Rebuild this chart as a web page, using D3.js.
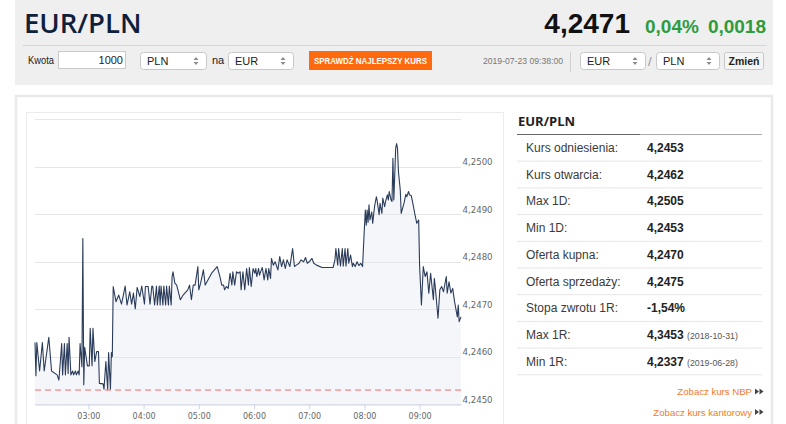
<!DOCTYPE html>
<html>
<head>
<meta charset="utf-8">
<script src="https://cdnjs.cloudflare.com/ajax/libs/d3/7.8.5/d3.min.js"></script>
<style>
    body { margin: 0; background: #fff; }
    svg { display: block; font-family: "Liberation Sans", Arial, sans-serif; }
</style>
</head>
<body>
<div id="page"></div>
<script>
// intraday EUR/PLN quotes
var series = [
    ["02:02", 4.2463], ["02:03", 4.2456], ["02:04", 4.2463], ["02:07", 4.2457], ["02:10", 4.2463],
    ["02:12", 4.2457], ["02:17", 4.24641], ["02:20", 4.2457], ["02:26", 4.24562], ["02:28", 4.24551],
    ["02:31", 4.24628], ["02:32", 4.24562], ["02:34", 4.24628], ["02:35", 4.24562], ["02:37", 4.24628],
    ["02:38", 4.24565], ["02:39", 4.24641], ["02:41", 4.24562], ["02:43", 4.2457], ["02:44", 4.24562],
    ["02:46", 4.2457], ["02:47", 4.24562], ["02:49", 4.2457], ["02:50", 4.24562], ["02:51", 4.24628],
    ["02:53", 4.24579], ["02:54", 4.24849], ["02:55", 4.24541], ["02:56", 4.2462], ["02:59", 4.24581],
    ["03:01", 4.24581], ["03:02", 4.2466], ["03:04", 4.24581], ["03:05", 4.2466], ["03:07", 4.2459],
    ["03:09", 4.24611], ["03:11", 4.24611], ["03:12", 4.24544], ["03:16", 4.24543], ["03:17", 4.24532],
    ["03:19", 4.2459], ["03:21", 4.24532], ["03:22", 4.24609], ["03:24", 4.24532], ["03:25", 4.24609],
    ["03:26", 4.246], ["03:27", 4.24748], ["03:30", 4.24716], ["03:33", 4.2473], ["03:36", 4.24711],
    ["03:40", 4.24749], ["03:42", 4.24709], ["03:45", 4.24737], ["03:47", 4.24711], ["03:49", 4.24734],
    ["03:51", 4.24701], ["03:53", 4.24746], ["03:56", 4.24727], ["03:58", 4.24749], ["04:01", 4.24711],
    ["04:02", 4.24748], ["04:05", 4.24748], ["04:07", 4.24711], ["04:09", 4.24749], ["04:10", 4.24748],
    ["04:12", 4.24709], ["04:14", 4.24749], ["04:15", 4.24709], ["04:17", 4.24749], ["04:18", 4.24709],
    ["04:19", 4.24749], ["04:21", 4.24709], ["04:22", 4.24749], ["04:24", 4.24709], ["04:25", 4.24749],
    ["04:27", 4.24709], ["04:28", 4.24749], ["04:30", 4.24709], ["04:31", 4.24769], ["04:32", 4.24779],
    ["04:34", 4.24755], ["04:36", 4.24751], ["04:40", 4.2472], ["04:43", 4.2473], ["04:48", 4.24741],
    ["04:50", 4.24751], ["04:52", 4.2472], ["04:54", 4.24751], ["04:56", 4.24751], ["04:59", 4.2479],
    ["05:00", 4.24741], ["05:02", 4.24755], ["05:05", 4.24783], ["05:07", 4.24751], ["05:08", 4.24755],
    ["05:14", 4.24776], ["05:20", 4.2479], ["05:23", 4.24769], ["05:25", 4.24751], ["05:27", 4.24751],
    ["05:28", 4.24741], ["05:30", 4.24748], ["05:32", 4.24744], ["05:34", 4.24776], ["05:36", 4.24751],
    ["05:37", 4.24779], ["05:39", 4.24751], ["05:41", 4.24779], ["05:43", 4.24776], ["05:45", 4.24779],
    ["05:46", 4.24741], ["05:48", 4.24779], ["05:50", 4.24741], ["05:52", 4.24786], ["05:54", 4.24751],
    ["05:55", 4.24788], ["05:57", 4.24748], ["05:59", 4.24786], ["06:01", 4.24776], ["06:02", 4.24786],
    ["06:03", 4.24769], ["06:05", 4.24786], ["06:06", 4.24772], ["06:08", 4.24783], ["06:09", 4.24788],
    ["06:10", 4.24776], ["06:11", 4.24762], ["06:13", 4.24786], ["06:15", 4.24762], ["06:16", 4.24786],
    ["06:18", 4.24765], ["06:19", 4.24807], ["06:21", 4.24793], ["06:23", 4.248], ["06:26", 4.24783],
    ["06:28", 4.24811], ["06:30", 4.2479], ["06:32", 4.24804], ["06:34", 4.24786], ["06:36", 4.24804],
    ["06:39", 4.2479], ["06:42", 4.24828], ["06:44", 4.2479], ["06:46", 4.24793], ["06:49", 4.24797],
    ["06:51", 4.24804], ["06:54", 4.248], ["06:56", 4.24809], ["06:58", 4.24797], ["07:00", 4.248],
    ["07:03", 4.24807], ["07:05", 4.24797], ["07:08", 4.24793], ["07:14", 4.24788], ["07:26", 4.24788],
    ["07:28", 4.24804], ["07:29", 4.24828], ["07:31", 4.24793], ["07:32", 4.24828], ["07:34", 4.24791],
    ["07:36", 4.24828], ["07:37", 4.24791], ["07:39", 4.24828], ["07:40", 4.24791], ["07:42", 4.24828],
    ["07:43", 4.24797], ["07:45", 4.24814], ["07:47", 4.2479], ["07:48", 4.24797], ["07:50", 4.2479],
    ["07:52", 4.248], ["07:54", 4.24792], ["07:56", 4.24797], ["07:58", 4.2479], ["08:00", 4.24871],
    ["08:01", 4.24909], ["08:02", 4.24877], ["08:03", 4.24909], ["08:04", 4.24883], ["08:05", 4.2492],
    ["08:06", 4.24888], ["08:08", 4.24905], ["08:09", 4.24881], ["08:11", 4.24916], ["08:13", 4.24937],
    ["08:14", 4.24927], ["08:16", 4.24899], ["08:17", 4.24923], ["08:19", 4.24902], ["08:20", 4.24934],
    ["08:22", 4.24916], ["08:23", 4.24927], ["08:25", 4.24941], ["08:26", 4.2493], ["08:27", 4.24948],
    ["08:29", 4.2493], ["08:30", 4.24927], ["08:31", 4.25018], ["08:32", 4.2493], ["08:34", 4.25039],
    ["08:35", 4.25049], ["08:36", 4.25039], ["08:37", 4.2499], ["08:39", 4.24951], ["08:40", 4.24902],
    ["08:43", 4.24923], ["08:45", 4.24942], ["08:46", 4.24937], ["08:48", 4.24948], ["08:49", 4.24941],
    ["08:51", 4.24939], ["08:53", 4.2492], ["08:55", 4.24899], ["08:57", 4.24881], ["08:59", 4.24888],
    ["09:00", 4.24793], ["09:02", 4.24709], ["09:04", 4.2479], ["09:06", 4.24769], ["09:08", 4.24779],
    ["09:10", 4.24734], ["09:12", 4.24776], ["09:15", 4.2472], ["09:16", 4.24765], ["09:17", 4.24748],
    ["09:20", 4.24681], ["09:22", 4.24741], ["09:24", 4.24748], ["09:26", 4.24737], ["09:29", 4.24769],
    ["09:30", 4.24734], ["09:32", 4.24758], ["09:34", 4.24734], ["09:36", 4.24744], ["09:38", 4.24716],
    ["09:41", 4.24684], ["09:42", 4.24709], ["09:43", 4.24674], ["09:45", 4.24684]
];

var hourTicks = ["03:00", "04:00", "05:00", "06:00", "07:00", "08:00", "09:00"];
var rateTicks = [4.2450, 4.2460, 4.2470, 4.2480, 4.2490, 4.2500];
var gridRates = [4.2450, 4.2460, 4.2470, 4.2480, 4.2490, 4.2500, 4.2510];
var refRate = 4.2453;

// header
var pairName = "EUR/PLN";
var lastRate = "4,2471";
var changePct = "0,04%";
var changeAbs = "0,0018";
var quoteTime = "2019-07-23 09:38:00";

// stats table
var statLabels = ["Kurs odniesienia:", "Kurs otwarcia:", "Max 1D:", "Min 1D:", "Oferta kupna:",
    "Oferta sprzedaży:", "Stopa zwrotu 1R:", "Max 1R:", "Min 1R:"];
var statValues = ["4,2453", "4,2462", "4,2505", "4,2453", "4,2470", "4,2475", "-1,54%", "4,3453", "4,2337"];
var statDates = ["", "", "", "", "", "", "", "(2018-10-31)", "(2019-06-28)"];
var links = ["Zobacz kurs NBP", "Zobacz kurs kantorowy"];

var svg = d3.select("#page").append("svg")
    .attr("width", 786)
    .attr("height", 424);

// ---- header box
svg.append("rect").attr("x", 15).attr("y", 0).attr("width", 758).attr("height", 85).attr("fill", "#efefef");

svg.append("text")
    .attr("x", 24).attr("y", 32.5)
    .style("font-family", "'Open Sans', sans-serif")
    .style("font-weight", 600)
    .style("font-size", "27.5px")
    .attr("fill", "#0f203b")
    .text(pairName);

svg.append("text")
    .attr("x", 630).attr("y", 33)
    .attr("text-anchor", "end")
    .style("font-weight", "bold").style("font-size", "28px")
    .attr("fill", "#111")
    .text(lastRate);
svg.append("text")
    .attr("x", 645).attr("y", 32.5)
    .style("font-weight", "bold").style("font-size", "19px")
    .attr("fill", "#2e9b3e")
    .text(changePct);
svg.append("text")
    .attr("x", 766).attr("y", 32.5)
    .attr("text-anchor", "end")
    .style("font-weight", "bold").style("font-size", "19px")
    .attr("fill", "#2e9b3e")
    .text(changeAbs);

svg.append("line")
    .attr("x1", 23).attr("x2", 767).attr("y1", 45.5).attr("y2", 45.5)
    .attr("stroke", "#d6d6d6");

// little select box with up/down arrows
function selectBox(x, y, w, label) {
    svg.append("rect")
        .attr("x", x + 0.5).attr("y", y + 0.5).attr("width", w).attr("height", 17).attr("rx", 3)
        .attr("fill", "#fff").attr("stroke", "#c8c8c8");
    svg.append("text")
        .attr("x", x + 7).attr("y", y + 12.5)
        .style("font-size", "11px").attr("fill", "#222")
        .text(label);
    var ax = x + w - 10, ay = y + 9;
    svg.append("path")
        .attr("d", "M" + (ax - 2.5) + "," + (ay - 1) + "L" + ax + "," + (ay - 4) + "L" + (ax + 2.5) + "," + (ay - 1) + "Z" +
            "M" + (ax - 2.5) + "," + (ay + 1) + "L" + ax + "," + (ay + 4) + "L" + (ax + 2.5) + "," + (ay + 1) + "Z")
        .attr("fill", "#8a8a8a");
}

svg.append("text").attr("x", 28).attr("y", 64).style("font-size", "10.5px").attr("fill", "#222")
    .attr("textLength", 26).attr("lengthAdjust", "spacingAndGlyphs").text("Kwota");
svg.append("rect")
    .attr("x", 58.5).attr("y", 51.5).attr("width", 67).attr("height", 17)
    .attr("fill", "#fff").attr("stroke", "#c8c8c8");
svg.append("text").attr("x", 123).attr("y", 64).attr("text-anchor", "end")
    .style("font-size", "11px").attr("fill", "#222").text("1000");

selectBox(140, 52, 66, "PLN");
svg.append("text").attr("x", 212).attr("y", 64).style("font-size", "11px").attr("fill", "#222").text("na");
selectBox(228, 52, 65, "EUR");

svg.append("rect").attr("x", 309).attr("y", 51).attr("width", 123).attr("height", 19).attr("fill", "#ff6a0e");
svg.append("text")
    .attr("x", 370.5).attr("y", 64).attr("text-anchor", "middle")
    .attr("textLength", 113).attr("lengthAdjust", "spacingAndGlyphs")
    .style("font-size", "9px").style("font-weight", "bold").attr("fill", "#fff")
    .text("SPRAWDŹ NAJLEPSZY KURS");

svg.append("text")
    .attr("x", 483).attr("y", 64)
    .attr("textLength", 80).attr("lengthAdjust", "spacingAndGlyphs")
    .style("font-size", "9.5px").attr("fill", "#777")
    .text(quoteTime);
svg.append("line").attr("x1", 570.5).attr("x2", 570.5).attr("y1", 52).attr("y2", 72).attr("stroke", "#d0d0d0");

selectBox(580, 52, 65, "EUR");
svg.append("text").attr("x", 648).attr("y", 66).style("font-size", "13px").attr("fill", "#999").text("/");
selectBox(656, 52, 63, "PLN");

svg.append("rect")
    .attr("x", 724.5).attr("y", 52.5).attr("width", 39).attr("height", 17).attr("rx", 2)
    .attr("fill", "#f5f5f5").attr("stroke", "#c8c8c8");
svg.append("text")
    .attr("x", 744).attr("y", 65).attr("text-anchor", "middle")
    .style("font-size", "10.5px").style("font-weight", "bold").attr("fill", "#222")
    .text("Zmień");

// ---- panel + chart box
svg.append("rect")
    .attr("x", 16).attr("y", 96).attr("width", 756).attr("height", 340)
    .attr("fill", "#fff").attr("stroke", "#e9e9e9").attr("stroke-width", 2.5);
svg.append("rect")
    .attr("x", 26.5).attr("y", 112.5).attr("width", 477).attr("height", 330)
    .attr("fill", "#fff").attr("stroke", "#ececec");

var parseT = d3.timeParse("%H:%M");
var data = series.map(function(d) { return { t: parseT(d[0]), v: d[1] }; });

var x = d3.scaleTime()
    .domain(d3.extent(data, function(d) { return d.t; }))
    .range([35, 461]);

var y = d3.scaleLinear()
    .domain([4.2450, 4.2510])
    .range([404.3, 119.3]);

var fmtRate = function(v) { return d3.format(".4f")(v).replace(".", ","); };

// area under the line
svg.append("path")
    .datum(data)
    .attr("fill", "#f5f6f9")
    .attr("d", d3.area()
        .x(function(d) { return x(d.t); })
        .y0(y(4.2450))
        .y1(function(d) { return y(d.v); }));

// gridlines
svg.append("g")
    .selectAll("line")
    .data(gridRates)
    .enter()
    .append("line")
    .attr("x1", 35).attr("x2", 461)
    .attr("y1", function(d) { return Math.round(y(d)) + 0.5; })
    .attr("y2", function(d) { return Math.round(y(d)) + 0.5; })
    .attr("stroke", "#e6e6e6");

// y labels on the right, sitting on the gridline
svg.append("g")
    .selectAll("text")
    .data(rateTicks)
    .enter()
    .append("text")
    .attr("x", 462.5)
    .attr("y", function(d) { return y(d) - 1.5; })
    .style("font-family", "'DejaVu Sans', sans-serif")
    .style("font-size", "8.6px")
    .attr("fill", "#666")
    .text(fmtRate);

// reference rate
svg.append("line")
    .attr("x1", 35).attr("x2", 461)
    .attr("y1", y(refRate)).attr("y2", y(refRate))
    .attr("stroke", "#f26b6b")
    .attr("stroke-dasharray", "6,4");

// x axis
var xAxis = svg.append("g")
    .attr("transform", "translate(0," + 404.5 + ")")
    .call(d3.axisBottom(x)
        .tickValues(hourTicks.map(parseT))
        .tickFormat(d3.timeFormat("%H:%M"))
        .tickSize(5)
        .tickSizeOuter(0)
        .tickPadding(4));
xAxis.select(".domain").attr("stroke", "#ccd6eb");
xAxis.selectAll(".tick line").attr("stroke", "#ccd6eb");
xAxis.selectAll(".tick text")
    .attr("fill", "#666")
    .style("font-family", "'DejaVu Sans', sans-serif")
    .style("font-size", "8px");

// price line
svg.append("path")
    .datum(data)
    .attr("fill", "none")
    .attr("stroke", "#2b3c5b")
    .attr("stroke-width", 1.1)
    .attr("stroke-linejoin", "round")
    .attr("d", d3.line()
        .x(function(d) { return x(d.t); })
        .y(function(d) { return y(d.v); }));

// ---- stats table
svg.append("text")
    .attr("x", 518).attr("y", 126)
    .style("font-family", "'Open Sans', sans-serif")
    .style("font-weight", 700).style("font-size", "13px")
    .attr("fill", "#222")
    .text(pairName);
svg.append("line").attr("x1", 517).attr("x2", 640).attr("y1", 134.5).attr("y2", 134.5).attr("stroke", "#666");
svg.append("line").attr("x1", 640).attr("x2", 762).attr("y1", 134.5).attr("y2", 134.5).attr("stroke", "#aaa");

var rowH = 26.7, rowTop = 134.5;
var rows = svg.append("g").selectAll("g")
    .data(statLabels)
    .enter()
    .append("g")
    .attr("transform", function(d, i) { return "translate(0," + (rowTop + i * rowH) + ")"; });

rows.append("text")
    .attr("x", 526).attr("y", 17.5)
    .style("font-size", "12px").attr("fill", "#3a3a3a")
    .text(function(d) { return d; });
rows.append("text")
    .attr("x", 647).attr("y", 17.5)
    .style("font-size", "12px").style("font-weight", "bold").attr("fill", "#222")
    .text(function(d, i) { return statValues[i]; });
rows.append("text")
    .attr("x", 687).attr("y", 17.5)
    .style("font-size", "8.8px").attr("fill", "#555")
    .text(function(d, i) { return statDates[i]; });
rows.append("line")
    .attr("x1", 517).attr("x2", 762)
    .attr("y1", rowH).attr("y2", rowH)
    .attr("stroke", "#e6e6e6");

// links
links.forEach(function(l, i) {
    var ly = 395 + i * 20.6;
    svg.append("text")
        .attr("x", 752).attr("y", ly)
        .attr("text-anchor", "end")
        .style("font-size", "9.6px").attr("fill", "#f47a2a")
        .text(l);
    svg.append("path")
        .attr("d", "M755," + (ly - 6.5) + "L759," + (ly - 3.5) + "L755," + (ly - 0.5) + "Z" +
            "M759.5," + (ly - 6.5) + "L763.5," + (ly - 3.5) + "L759.5," + (ly - 0.5) + "Z")
        .attr("fill", "#444");
});
</script>
</body>
</html>
